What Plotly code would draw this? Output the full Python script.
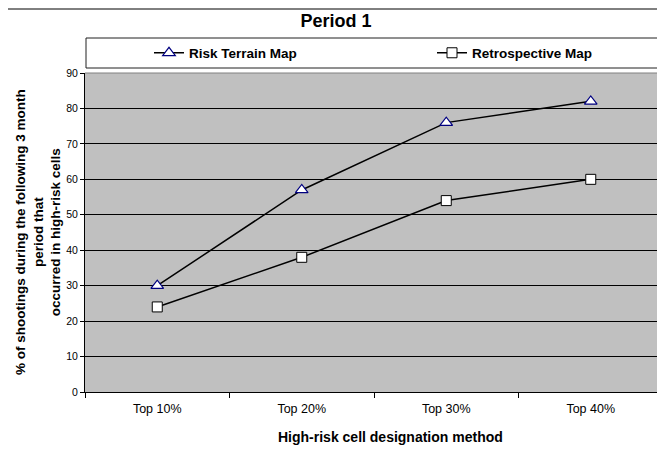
import plotly.graph_objects as go

categories = ["Top 10%", "Top 20%", "Top 30%", "Top 40%"]
risk_terrain = [30, 57, 76, 82]
retrospective = [24, 38, 54, 60]
y_ticks = [0, 10, 20, 30, 40, 50, 60, 70, 80, 90]

FONT = "Arial, 'Liberation Sans', sans-serif"

OFF = 8  # page body margin of the browser
W, H = 665 - OFF, 459 - OFF
L, R, T, B = 85 - OFF, 2, 73 - OFF, 67
PW, PH = W - L - R, H - T - B


def px_x(x):
    return (x - OFF - L) / PW


def px_y(y):
    return (H - B - (y - OFF)) / PH


fig = go.Figure()
fig.add_trace(go.Scatter(
    x=categories, y=risk_terrain, name="<b>Risk Terrain Map</b>",
    mode="lines+markers", legendwidth=238,
    line=dict(color="black", width=1.5),
    marker=dict(symbol="triangle-up", size=11, color="white",
                line=dict(color="#000080", width=1.2)),
))
fig.add_trace(go.Scatter(
    x=categories, y=retrospective, name="<b>Retrospective Map</b>",
    mode="lines+markers", legendwidth=130,
    line=dict(color="black", width=1.5),
    marker=dict(symbol="square", size=10, color="white",
                line=dict(color="black", width=1)),
))

shapes = [
    # outer chart frame
    dict(type="rect", xref="paper", yref="paper",
         x0=px_x(6), x1=px_x(666), y0=px_y(480), y1=px_y(9),
         line=dict(color="black", width=1), fillcolor="rgba(0,0,0,0)", layer="below"),
    # legend box
    dict(type="rect", xref="paper", yref="paper",
         x0=px_x(86), x1=px_x(663), y0=px_y(68), y1=px_y(38),
         line=dict(color="#202020", width=1), fillcolor="white", layer="below"),
    # plot frame top/right (gray)
    dict(type="line", xref="paper", yref="paper", x0=0, x1=1, y0=1, y1=1,
         line=dict(color="#808080", width=1), layer="above"),
    dict(type="line", xref="paper", yref="paper", x0=1, x1=1, y0=0, y1=1,
         line=dict(color="#808080", width=1), layer="above"),
]

annotations = [
    dict(text="<b>High-risk cell designation method</b>", xref="paper", yref="paper",
         x=px_x(390), y=px_y(437), xanchor="center", yanchor="middle",
         showarrow=False, font=dict(family=FONT, size=14, color="black")),
    dict(text="<b>% of shootings during the following 3 month<br>period that<br>occurred in high-risk cells</b>",
         xref="paper", yref="paper", x=px_x(38), y=px_y(232), xanchor="center", yanchor="middle",
         textangle=-90, showarrow=False, font=dict(family=FONT, size=13.5, color="black")),
]

fig.update_layout(
    width=W, height=H,
    margin=dict(l=L, r=R, t=T, b=B, pad=0),
    paper_bgcolor="white",
    plot_bgcolor="#C0C0C0",
    font=dict(family=FONT, color="black"),
    title=dict(text="<b>Period 1</b>", x=(336 - OFF) / W, xref="container", xanchor="center",
               y=1 - (21 - OFF) / H, yref="container", yanchor="middle",
               font=dict(family=FONT, size=18, color="black")),
    showlegend=True,
    legend=dict(orientation="h", x=px_x(149), xanchor="left", y=px_y(53), yanchor="middle",
                bgcolor="rgba(0,0,0,0)", borderwidth=0,
                font=dict(family=FONT, size=13.5, color="black"),
                itemclick=False),
    shapes=shapes,
    annotations=annotations,
    xaxis=dict(type="category", range=[-0.5, 3.5], tickson="boundaries",
               ticks="outside", ticklen=5, tickcolor="black",
               showline=True, linecolor="black", linewidth=1,
               showgrid=False, zeroline=False, ticklabelstandoff=5,
               tickfont=dict(family=FONT, size=12.5, color="black")),
    yaxis=dict(range=[0, 90], tickvals=y_ticks,
               ticks="outside", ticklen=4, tickcolor="black",
               showline=True, linecolor="black", linewidth=1,
               showgrid=True, gridcolor="black", gridwidth=1,
               zeroline=False,
               tickfont=dict(family=FONT, size=10.5, color="black")),
)

fig.write_html("out.html")
